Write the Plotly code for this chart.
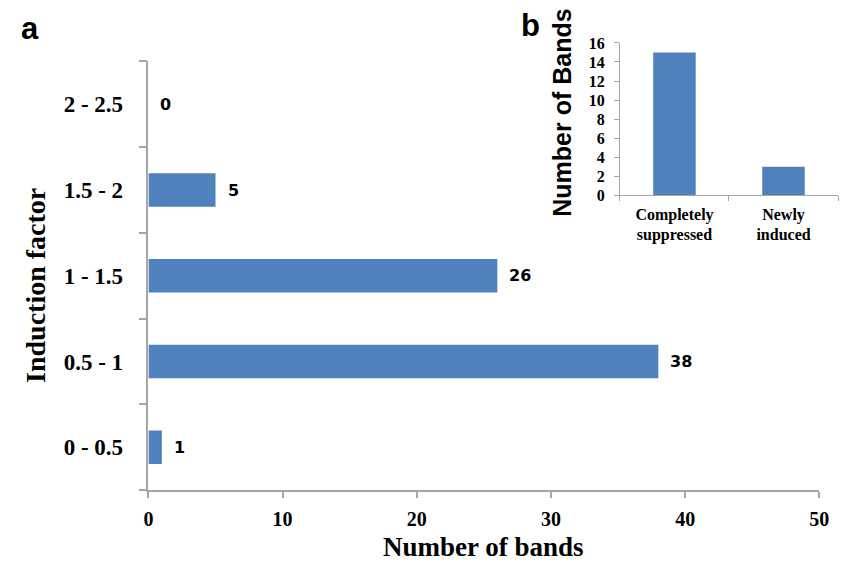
import plotly.graph_objects as go

# Panel a: distribution of bands by induction factor
factor_bins = ["0 - 0.5", "0.5 - 1", "1 - 1.5", "1.5 - 2", "2 - 2.5"]
band_counts = [1, 38, 26, 5, 0]
x_ticks = [0, 10, 20, 30, 40, 50]

# Panel b: bands that disappeared or appeared
change_types = ["Completely<br>suppressed", "Newly<br>induced"]
change_counts = [15, 3]
inset_ticks = [0, 2, 4, 6, 8, 10, 12, 14, 16]

BAR = "#4f81bd"
AXIS = "#a6a6a6"
SERIF = "Liberation Serif"
SANS = "Liberation Sans"

fig = go.Figure()

fig.add_trace(go.Bar(
    y=factor_bins, x=band_counts, orientation="h",
    marker=dict(color=BAR, line=dict(width=0)),
    xaxis="x", yaxis="y", showlegend=False,
))

fig.add_trace(go.Bar(
    x=change_types, y=change_counts,
    marker=dict(color=BAR, line=dict(width=0)),
    xaxis="x2", yaxis="y2", showlegend=False,
))

# count labels just past the end of each bar
value_labels = [
    dict(text=str(v), x=v, y=cat, xref="x", yref="y",
         xanchor="left", yanchor="middle", xshift=10, showarrow=False,
         font=dict(family="DejaVu Sans", size=16, color="black", weight="bold"))
    for cat, v in zip(factor_bins, band_counts)
]

# free text placed by pixel position (converted to paper fractions below)
text_items = [
    dict(text="Number of bands", x=487, y=556, textangle=0,
         font=dict(family=SERIF, size=27, color="black", weight="bold")),
    dict(text="Induction factor", x=31, y=286, textangle=-90,
         font=dict(family=SERIF, size=28, color="black", weight="bold")),
    dict(text="Number of Bands", x=567, y=108, textangle=-90,
         font=dict(family=SANS, size=25, color="black", weight="bold")),
    dict(text="a", x=25, y=21, textangle=0,
         font=dict(family=SANS, size=31, color="black", weight="bold")),
    dict(text="b", x=535, y=18, textangle=0,
         font=dict(family=SANS, size=31, color="black", weight="bold")),
]
for t in text_items:
    t.update(x=t["x"] / 850, y=1 - t["y"] / 571, xref="paper", yref="paper",
             xanchor="center", yanchor="middle", showarrow=False)

fig.update_layout(
    width=850, height=571,
    margin=dict(l=0, r=0, t=0, b=0),
    paper_bgcolor="white", plot_bgcolor="rgba(0,0,0,0)",
    bargap=0.61,
    xaxis=dict(
        domain=[146 / 850, 829 / 850], range=[0, 50],
        tickvals=x_ticks, showgrid=False, zeroline=False,
        showline=True, linecolor=AXIS, linewidth=1.5,
        ticks="outside", ticklen=6, tickcolor=AXIS, tickwidth=1.5,
        ticklabelstandoff=4,
        tickfont=dict(family=SERIF, size=20, color="black", weight="bold"),
        anchor="y",
    ),
    yaxis=dict(
        domain=[1 - 497 / 571, 1 - 55 / 571],
        categoryorder="array", categoryarray=factor_bins,
        showgrid=False, zeroline=False,
        showline=True, linecolor=AXIS, linewidth=1.5,
        ticks="outside", ticklen=8, tickcolor=AXIS, tickwidth=1.5,
        tickson="boundaries", ticklabelstandoff=19,
        tickfont=dict(family=SERIF, size=23, color="black", weight="bold"),
        anchor="x",
    ),
    xaxis2=dict(
        domain=[626 / 850, 848 / 850],
        showgrid=False, zeroline=False,
        showline=True, linecolor=AXIS, linewidth=1.2,
        ticks="outside", ticklen=5, tickcolor=AXIS, tickwidth=1.2,
        tickson="boundaries", ticklabelstandoff=4,
        tickfont=dict(family=SERIF, size=16, color="black", weight="bold"),
        anchor="y2",
    ),
    yaxis2=dict(
        domain=[1 - 193 / 571, 1 - 36 / 571], range=[0, 16],
        tickvals=inset_ticks, showgrid=False, zeroline=False,
        showline=True, linecolor=AXIS, linewidth=1.2,
        ticks="outside", ticklen=5, tickcolor=AXIS, tickwidth=1.2,
        ticklabelstandoff=6,
        tickfont=dict(family=SERIF, size=16, color="black", weight="bold"),
        anchor="x2",
    ),
    annotations=value_labels + text_items,
)

fig.write_html("out.html")
